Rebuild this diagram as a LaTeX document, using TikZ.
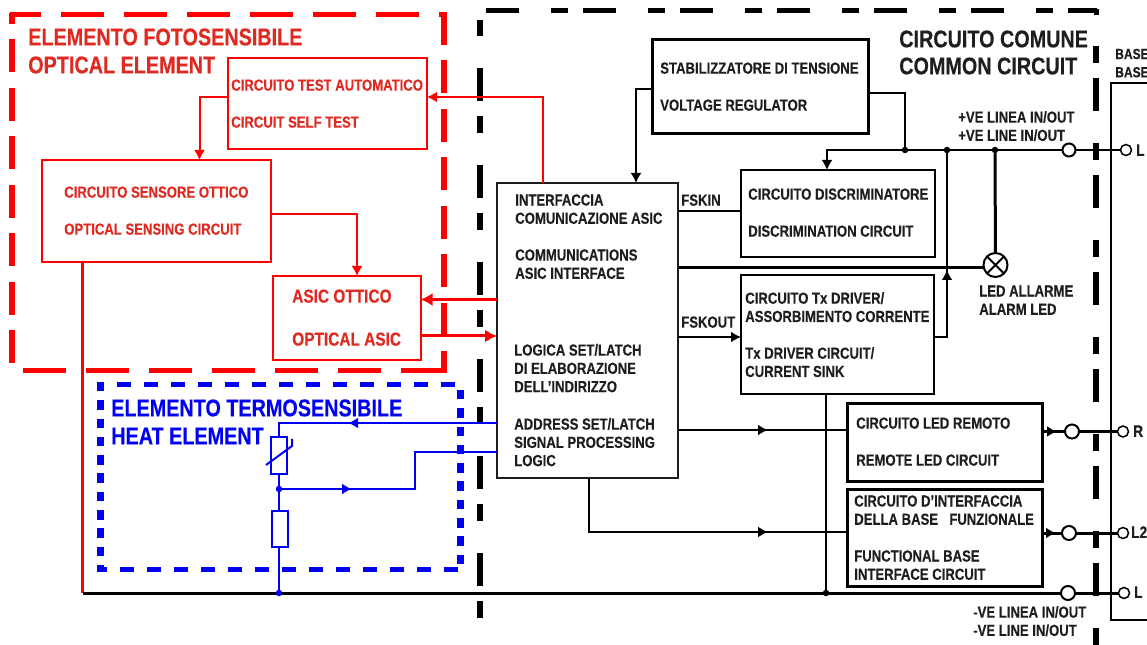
\documentclass[tikz,border=0pt]{standalone}
\usepackage{fontspec}
\setmainfont{Liberation Sans}[BoldFont={Liberation Sans Bold},BoldFeatures={FakeStretch=0.82,FakeBold=0.25}]
\usetikzlibrary{arrows.meta}
\definecolor{ink}{HTML}{1E1E1E}
\definecolor{rd}{HTML}{DF2A22}
\definecolor{fullred}{HTML}{FF0000}
\definecolor{bl}{HTML}{0000F5}
\tikzset{
 x=0.75pt,y=-0.75pt,
 px/.style={line width=#1*0.75pt},
 box/.style 2 args={draw,fill=white,rectangle,anchor=north west,inner sep=0pt,outer sep=0pt,minimum width=#1*0.75pt,minimum height=#2*0.75pt},
 txt/.style={anchor=west,inner sep=0pt,align=left,yshift=-0.1pt,font=\bfseries\fontsize{12}{13.7}\selectfont,text=ink},
 rtxt/.style={txt,text=rd},
 head/.style={anchor=west,inner sep=0pt,align=left,font=\bfseries\fontsize{18.1}{20.5}\selectfont},
 pin/.style={txt,font=\bfseries\fontsize{12.5}{14}\selectfont},
 term/.style={circle,draw,fill=white,inner sep=0pt,outer sep=0pt,minimum size=#1*0.75pt,px=2},
 dot/.style={circle,fill,inner sep=0pt,outer sep=0pt,minimum size=6.5*0.75pt},
 tip/.style={-{Latex[length=10*0.75pt,width=11*0.75pt]}},
 bigtip/.style={-{Latex[length=12*0.75pt,width=13*0.75pt]}},
 blackdash/.style={draw=black,dash pattern=on 17*0.75pt off 15*0.75pt on 33*0.75pt off 32*0.75pt},
 redh/.style={fullred,px=5,dash pattern=on 43*0.75pt off 20*0.75pt},
 redv/.style={fullred,px=6,dash pattern=on 33*0.75pt off 15.5*0.75pt},
 blueh/.style={bl,px=5,dash pattern=on 14*0.75pt off 13*0.75pt},
 bluev/.style={bl,px=7,dash pattern=on 9.5*0.75pt off 8.8*0.75pt},
}
\begin{document}
\begin{tikzpicture}
\useasboundingbox (0,0) rectangle (1147,645);
\fill[white] (0,0) rectangle (1147,645);

% red dashed region
\coordinate (rt1) at (10,14.5); \coordinate (rt2) at (447,14.5);
\coordinate (rb1) at (23,370.5); \coordinate (rb2) at (447,370.5);
\coordinate (rl1) at (12,13); \coordinate (rl2) at (12,365);
\coordinate (rr1) at (444,12); \coordinate (rr2) at (444,373);
\draw[redh,dash phase=12*0.75pt] (rt1) -- (rt2);
\draw[redh] (rb1) -- (rb2);
\draw[redv,dash phase=22*0.75pt] (rl1) -- (rl2);
\draw[redv] (rr1) -- (rr2);

% black dashed region
\coordinate (kl1) at (480,618); \coordinate (kl2) at (480,20);
\coordinate (kt1) at (486,10.5); \coordinate (kt2) at (1097,10.5);
\coordinate (kr1) at (1096,46); \coordinate (kr2) at (1096,645);
\draw[blackdash,px=5.5] (kl1) -- (kl2);
\draw[blackdash,px=4.5,dash pattern=on 33*0.75pt off 32*0.75pt on 17*0.75pt off 15*0.75pt] (kt1) -- (kt2);
\draw[blackdash,px=5.5] (kr1) -- (kr2);
\coordinate (kc) at (1096,9); \coordinate (kc2) at (1096,15);
\draw[px=5] (kc) -- (kc2);

% blue dashed region
\coordinate (bt1) at (97,384.5); \coordinate (bt2) at (458,384.5);
\coordinate (bb1) at (97,569); \coordinate (bb2) at (461,569);
\coordinate (bl1) at (100.5,382); \coordinate (bl2) at (100.5,571);
\coordinate (br1) at (460.5,390); \coordinate (br2) at (460.5,564);
\draw[blueh,dash phase=7*0.75pt] (bt1) -- (bt2);
\draw[blueh,dash phase=4*0.75pt] (bb1) -- (bb2);
\draw[bluev] (bl1) -- (bl2);
\draw[bluev] (br1) -- (br2);

% base outline
\coordinate (b1) at (1147,83); \coordinate (b2) at (1111,83); \coordinate (b3) at (1111,620); \coordinate (b4) at (1147,620);
\draw[px=2] (b1) -- (b2) -- (b3) -- (b4);

% boxes
\node[box={216}{94},px=3] (stab) at (652,40) {};
\node[box={194}{87},px=2] (disc) at (741,170) {};
\node[box={193}{119},px=2] (drv) at (741,275) {};
\node[box={195}{77},px=3] (rem) at (847,404) {};
\node[box={195}{97},px=3] (func) at (847,489) {};
\node[box={181}{295},px=2,draw=ink] (asic) at (497,183) {};
\node[box={199}{91},px=2,draw=fullred] (self) at (228,58) {};
\node[box={229}{102},px=2.5,draw=fullred] (sens) at (42,160) {};
\node[box={148}{84},px=2,draw=fullred] (oasic) at (272.5,276) {};

% red wiring
\coordinate (r1) at (543,97);
\draw[fullred,px=2,tip] (asic.north -| r1) -- (r1) -- (r1 -| self.east);
\coordinate (r2) at (199.5,97);
\draw[fullred,px=2,tip] (r2 -| self.west) -- (r2) -- (r2 |- sens.north);
\coordinate (r3) at (357,214);
\draw[fullred,px=1.8,tip] (r3 -| sens.east) -- (r3) -- (r3 |- oasic.north);
\coordinate (r4) at (497,299.5);
\draw[fullred,px=3,bigtip] (r4) -- (r4 -| oasic.east);
\coordinate (r5) at (420,336);
\draw[fullred,px=3,bigtip] (r5) -- (r5 -| asic.west);
\coordinate (rail) at (82.5,593);
\draw[fullred,px=2.5] (rail |- sens.south) -- (rail);

% black wiring
\coordinate (w1) at (636,89);
\draw[px=2,tip] (w1 -| stab.west) -- (w1) -- (w1 |- asic.north);
\coordinate (w2) at (905,93);
\coordinate (top) at (905,150);
\draw[px=2] (w2 -| stab.east) -- (w2) -- (top);
\coordinate (topL) at (827,150);
\node[term=13] (tplus) at (1069,150) {};
\node[term=11,px=1.5] (tL) at (1126,150) {};
\draw[px=2.5,tip] (tplus) -- (topL) -- (topL |- disc.north);
\draw[px=2.5] (tplus) -- (tL);
\node[dot] (d1) at (top) {};
\node[dot] (d2) at (947,150) {};
\node[dot] (d3) at (995,150) {};
\coordinate (w3) at (947,337);
\coordinate (w3m) at (947,270);
\draw[px=2] (w3 -| drv.east) -- (w3) -- (d2);
\draw[px=2,tip] (w3) -- (w3m);
\node[circle,draw,fill=white,px=2,minimum size=24*0.75pt,inner sep=0pt,outer sep=0pt] (led) at (995.5,265) {};
\draw[px=2] (led.north west) -- (led.south east) (led.north east) -- (led.south west);
\draw[px=3] (d3) -- (led);
\coordinate (w4) at (678,268);
\draw[px=3] (w4) -- (led.west |- w4);
\coordinate (w5) at (678,211);
\draw[px=2] (w5) -- (w5 -| disc.west);
\coordinate (w6) at (678,337);
\draw[px=2,tip] (w6) -- (w6 -| drv.west);
\coordinate (w7) at (678,430); \coordinate (w7m) at (768,430);
\draw[px=2] (w7) -- (w7 -| rem.west);
\draw[px=2,tip] (w7) -- (w7m);
% remote output
\node[term=14] (tR) at (1072,431.5) {};
\node[term=11,px=1.5] (tRo) at (1123,431.5) {};
\coordinate (w8) at (1042,431.5); \coordinate (w8m) at (1057,431.5);
\draw[px=3] (w8) -- (tR) -- (tRo);
\draw[px=2,tip] (w8) -- (w8m);
% functional output
\node[term=14] (tF) at (1069,533) {};
\node[term=11,px=1.5] (tFo) at (1123,533) {};
\coordinate (w9) at (1042,533); \coordinate (w9m) at (1056,533);
\draw[px=3] (w9) -- (tF) -- (tFo);
\draw[px=2,tip] (w9) -- (w9m);
% base interface
\coordinate (wa) at (589,532); \coordinate (wam) at (768,532);
\draw[px=1.8] (asic.south -| wa) -- (wa) -- (wa -| func.west);
\draw[px=1.8,tip] (wa) -- (wam);
% rail
\node[term=14] (tM) at (1068,593) {};
\node[term=11,px=1.5] (tMo) at (1124,593) {};
\draw[px=3] (rail) -- (tM) -- (tMo);
\node[dot] (d4) at (826,593) {};
\draw[px=2.5] (d4 |- drv.south) -- (d4);

% blue circuit
\node[box={16}{37},px=2,draw=bl,fill=none] (th) at (271,437) {};
\node[box={16}{36},px=2,draw=bl,fill=none] (res) at (272,511) {};
\node[dot,fill=bl] (d5) at (279,489) {};
\node[dot,fill=bl] (d6) at (279,593) {};
\coordinate (u1) at (279,423); \coordinate (u1a) at (497,423); \coordinate (u1m) at (348,423);
\coordinate (u2) at (415,489); \coordinate (u2b) at (415,452); \coordinate (u2c) at (497,452); \coordinate (u2m) at (352,489);
\draw[bl,px=2] (u1a) -- (u1) -- (u1 |- th.north);
\draw[bl,px=2,tip] (u1a) -- (u1m);
\draw[bl,px=2] (d5) -- (u2) -- (u2b) -- (u2c);
\draw[bl,px=2,tip] (d5) -- (u2m);
\draw[bl,px=2] (d5 |- th.south) -- (d5) -- (d5 |- res.north);
\draw[bl,px=2] (d5 |- res.south) -- (d6);
\coordinate (z1) at (266,465); \coordinate (z2) at (292,446); \coordinate (z3) at (292,439);
\draw[bl,px=2] (z1) -- (z2) -- (z3);

% headings
\node[head,text=rd] (h1) at (28,37) {ELEMENTO FOTOSENSIBILE};
\node[head,text=rd] (h2) at (28,65) {OPTICAL ELEMENT};
\node[head,text=bl] (h3) at (111,408) {ELEMENTO TERMOSENSIBILE};
\node[head,text=bl] (h4) at (111,436) {HEAT ELEMENT};
\node[head,text=ink] (h5) at (899,39) {CIRCUITO COMUNE};
\node[head,text=ink] (h6) at (899,66) {COMMON CIRCUIT};

% box texts
\node[rtxt] (t1) at (231,85) {CIRCUITO TEST AUTOMATICO};
\node[rtxt] (t2) at (231,122) {CIRCUIT SELF TEST};
\node[rtxt] (t3) at (64,192) {CIRCUITO SENSORE OTTICO};
\node[rtxt] (t4) at (64,229) {OPTICAL SENSING CIRCUIT};
\node[rtxt,font=\bfseries\fontsize{14.1}{16}\selectfont] (t5) at (292,296) {ASIC OTTICO};
\node[rtxt,font=\bfseries\fontsize{14.1}{16}\selectfont] (t6) at (292,339) {OPTICAL ASIC};

\node[txt] (s1) at (660,68) {STABILIZZATORE DI TENSIONE};
\node[txt] (s2) at (660,105) {VOLTAGE REGULATOR};
\node[txt] (s3) at (748,194) {CIRCUITO DISCRIMINATORE};
\node[txt] (s4) at (748,231) {DISCRIMINATION CIRCUIT};
\node[txt] (s5) at (745,307) {CIRCUITO Tx DRIVER/\\ASSORBIMENTO CORRENTE};
\node[txt] (s6) at (745,362) {Tx DRIVER CIRCUIT/\\CURRENT SINK};
\node[txt] (s7) at (856,423) {CIRCUITO LED REMOTO};
\node[txt] (s8) at (856,460) {REMOTE LED CIRCUIT};
\node[txt] (s9) at (854,510) {CIRCUITO D’INTERFACCIA\\DELLA BASE\ \hspace{3pt} FUNZIONALE};
\node[txt] (s10) at (854,565) {FUNCTIONAL BASE\\INTERFACE CIRCUIT};

\node[txt] (a1) at (515,209) {INTERFACCIA\\COMUNICAZIONE ASIC};
\node[txt] (a2) at (515,264) {COMMUNICATIONS\\ASIC INTERFACE};
\node[txt] (a3) at (514,368) {LOGICA SET/LATCH\\DI ELABORAZIONE\\DELL’INDIRIZZO};
\node[txt] (a4) at (514,442) {ADDRESS SET/LATCH\\SIGNAL PROCESSING\\LOGIC};

\node[txt] (f1) at (681,200) {FSKIN};
\node[txt] (f2) at (681,322) {FSKOUT};
\node[txt] (n1) at (958,126) {+VE LINEA IN/OUT\\+VE LINE IN/OUT};
\node[txt] (n2) at (979,300) {LED ALLARME\\ALARM LED};
\node[txt] (n3) at (973,621) {-VE LINEA IN/OUT\\-VE LINE IN/OUT};
\node[txt,font=\bfseries\fontsize{11}{13.7}\selectfont] (n4) at (1115,63) {BASE\\BASE};
\node[pin] (l1) at (1136,150) {L};
\node[pin] (l2) at (1133,431) {R};
\node[pin] (l3) at (1131,532) {L2};
\node[pin] (l4) at (1134,592) {L};
\end{tikzpicture}
\end{document}
